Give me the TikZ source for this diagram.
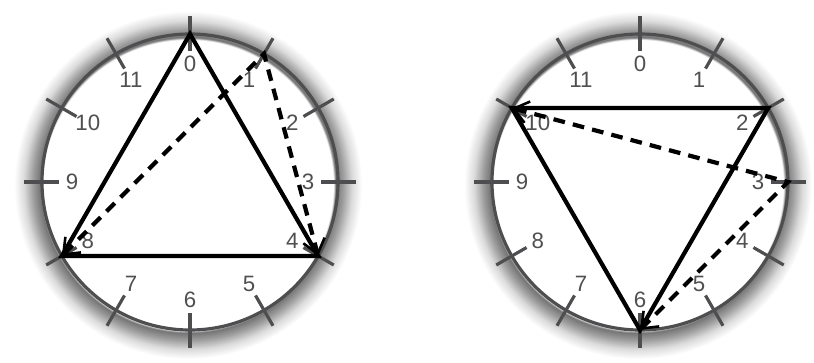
\documentclass[tikz,border=0pt]{standalone}
\usepackage{fontspec}
\setmainfont{Liberation Sans}
\usetikzlibrary{arrows.meta}
\definecolor{rimgray}{RGB}{78, 78, 80}
\definecolor{numgray}{RGB}{80, 80, 82}
\pgfdeclareradialshading{halo}{\pgfpoint{0bp}{0bp}}{color(0bp)=(white); color(20.9bp)=(white); color(21.2bp)=(black!55); color(22.3bp)=(black!38); color(23.6bp)=(black!14); color(25bp)=(white); color(50bp)=(white)}

\tikzset{
  rim/.style={draw=rimgray, line width=2.7pt},
  clocktick/.style={rimgray, line width=2.7pt},
  num/.style={text=numgray, font=\fontsize{19}{21}\selectfont, inner sep=0pt},
  tri/.style={black, line width=3.6pt, line join=miter},
  move/.style={black, line width=3.6pt, dash pattern=on 10pt off 7pt,
    {Straight Barb[length=4.2mm, width=6.6mm, line width=2.2pt]}-{Straight Barb[length=4.2mm, width=6.6mm, line width=2.2pt]}}
}

\begin{document}
\begin{tikzpicture}[x=0.03cm, y=-0.03cm]
  \useasboundingbox (0,0) rectangle (814,362);
  % two clock faces
  \foreach \c/\cx in {L/190, R/640} {
    \begin{scope}[shift={(\cx,182)}]
      \shade[shading=halo] (-2,3) circle (174);
      \draw[rim] (0,0) circle (148);
      \foreach \k in {0,...,11} {
        \coordinate (\c\k) at ({30*\k-90}:148);
        \draw[clocktick] ({30*\k-90}:131) -- ({30*\k-90}:166);
        \node[num] (\c n\k) at ({30*\k-90}:118) {\k};
      }
    \end{scope}
  }
  % left: triangle 0-4-8 and its move
  \draw[tri] (L0) -- (L4) -- (L8) -- cycle;
  \draw[move] (L8) -- (L1) -- (L4);
  % right: triangle 2-6-10 and its move
  \draw[tri] (R2) -- (R6) -- (R10) -- cycle;
  \draw[move] (R10) -- (R3) -- (R6);
\end{tikzpicture}
\end{document}
